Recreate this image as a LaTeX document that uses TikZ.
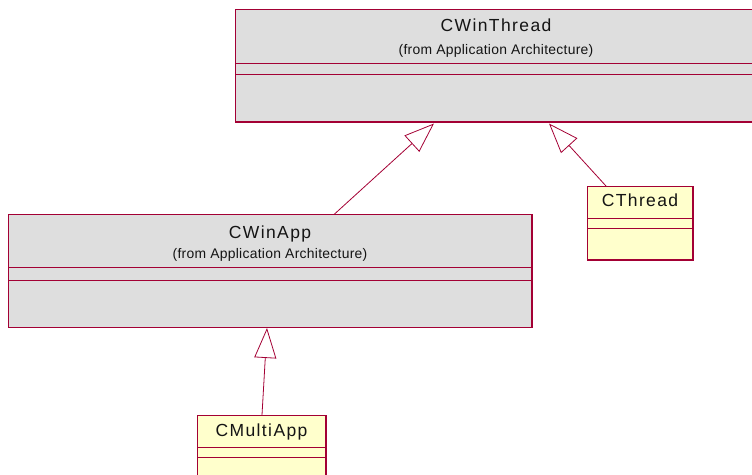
\documentclass[tikz,border=0pt]{standalone}
\usepackage{fontspec}
\setmainfont{Liberation Sans}
\usetikzlibrary{arrows.meta}
\definecolor{umlred}{RGB}{163,0,52}
\definecolor{umlgray}{RGB}{222,222,222}
\definecolor{umlyellow}{RGB}{255,255,204}
\definecolor{umltext}{RGB}{20,20,20}
\newfontfamily\titlefont[LetterSpace=8]{Liberation Sans}
\newfontfamily\subfont[LetterSpace=2]{Liberation Sans}

\begin{document}
\begin{tikzpicture}[x=1pt,y=-1pt,
  classbox/.style={draw=umlred, line width=0.9pt, rectangle, anchor=north west,
    inner sep=0pt, outer sep=0pt},
  graybox/.style={classbox, fill=umlgray},
  yellowbox/.style={classbox, fill=umlyellow},
  classname/.style={anchor=base, inner sep=0pt, text=umltext,
    font=\titlefont\fontsize{17.5}{20}\selectfont},
  fromnote/.style={anchor=base, inner sep=0pt, text=umltext,
    font=\subfont\fontsize{13.9}{16}\selectfont},
  sepline/.style={draw=umlred, line width=0.8pt},
  heavyedge/.style={draw=umlred, line width=1.8pt},
  inherit/.style={draw=umlred, line width=0.8pt,
    -{Triangle[open, length=30pt, width=22pt, line width=0.8pt]}}]

\useasboundingbox (0,0) rectangle (752,474);

% ---- CWinThread ----
\node[graybox, minimum width=522pt, minimum height=113pt] (wt) at (235,9) {};
\node[classname] (wtname) at (496,31) {CWinThread};
\node[fromnote] (wtfrom) at (496,54) {(from Application Architecture)};
\draw[sepline] ([yshift=-54pt]wt.north west) -- ([yshift=-54pt]wt.north east);
\draw[sepline] ([yshift=-65pt]wt.north west) -- ([yshift=-65pt]wt.north east);
\draw[heavyedge] (wt.south west) -- (wt.south east);

% ---- CWinApp ----
\node[graybox, minimum width=524pt, minimum height=113pt] (wa) at (8,214.5) {};
\node[classname] (waname) at (270,238.5) {CWinApp};
\node[fromnote] (wafrom) at (270,258.5) {(from Application Architecture)};
\draw[sepline] ([yshift=-53pt]wa.north west) -- ([yshift=-53pt]wa.north east);
\draw[sepline] ([yshift=-65.5pt]wa.north west) -- ([yshift=-65.5pt]wa.north east);
\draw[heavyedge] (wa.south west) -- (wa.south east) -- (wa.north east);

% ---- CThread ----
\node[yellowbox, minimum width=106pt, minimum height=74pt] (ct) at (587,186) {};
\node[classname] (ctname) at (640,206.5) {CThread};
\draw[sepline] ([yshift=-32pt]ct.north west) -- ([yshift=-32pt]ct.north east);
\draw[sepline] ([yshift=-42pt]ct.north west) -- ([yshift=-42pt]ct.north east);
\draw[heavyedge] (ct.south west) -- (ct.south east) -- (ct.north east);

% ---- CMultiApp ----
\node[yellowbox, minimum width=129pt, minimum height=75pt] (cm) at (197,415) {};
\node[classname] (cmname) at (261.5,436.5) {CMultiApp};
\draw[sepline] ([yshift=-32pt]cm.north west) -- ([yshift=-32pt]cm.north east);
\draw[sepline] ([yshift=-42pt]cm.north west) -- ([yshift=-42pt]cm.north east);
\draw[heavyedge] (cm.south east) -- (cm.north east);

% ---- generalisations ----
\draw[inherit] ([xshift=326pt]wa.north west) -- ([xshift=199pt, yshift=-1.5pt]wt.south west);
\draw[inherit] ([xshift=19pt]ct.north west) -- ([xshift=314pt, yshift=-1.5pt]wt.south west);
\draw[inherit] ([xshift=65pt]cm.north west) -- ([xshift=259pt, yshift=-0.5pt]wa.south west);
\end{tikzpicture}
\end{document}
